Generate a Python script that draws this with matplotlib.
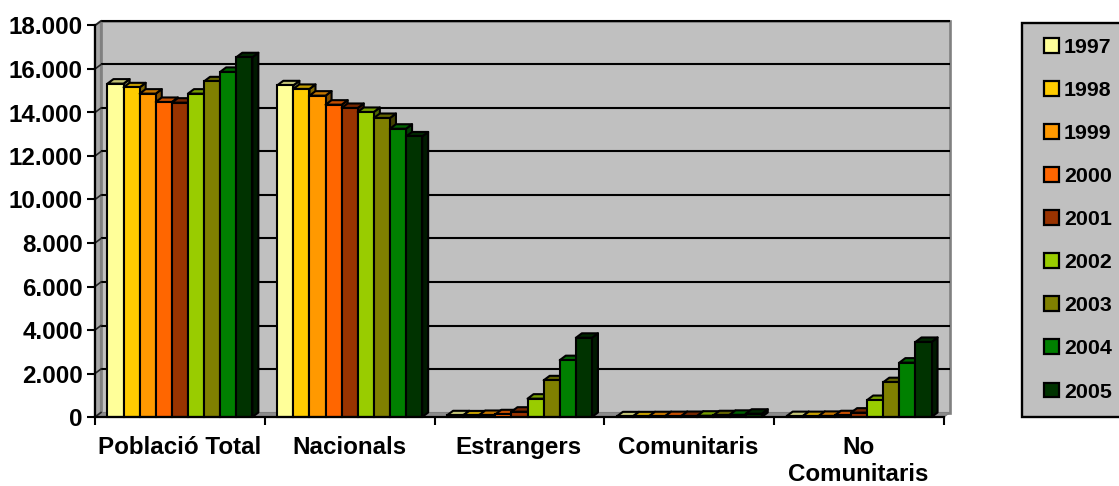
import matplotlib
matplotlib.use("Agg")
import matplotlib.pyplot as plt
from matplotlib.patches import Polygon, Rectangle

W, H = 1119, 486
plt.rcParams['font.family'] = ['Liberation Sans', 'DejaVu Sans']
plt.rcParams['font.weight'] = 'bold'

categories = ['Població Total', 'Nacionals', 'Estrangers', 'Comunitaris', 'No\nComunitaris']
years = ['1997', '1998', '1999', '2000', '2001', '2002', '2003', '2004', '2005']
colors = ['#FFFF99', '#FFCC00', '#FF9900', '#FF6600', '#993300', '#99CC00', '#808000', '#008000', '#003300']
shade = ['#C4C476', '#C49D00', '#C47600', '#C44E00', '#762700', '#769D00', '#626200', '#006200', '#002700']
dark = ['#808050', '#806600', '#804D00', '#803300', '#4D1A00', '#4D6600', '#404000', '#004000', '#001A00']

poblacio = [15328, 15157, 14867, 14484, 14452, 14867, 15433, 15867, 16540]
nacionals = [15250, 15084, 14775, 14360, 14208, 14024, 13747, 13254, 12899]
estrangers = [78, 73, 92, 124, 244, 843, 1686, 2613, 3641]
comunitaris = [30, 30, 35, 40, 45, 60, 80, 100, 150]
no_comunitaris = [40, 40, 50, 80, 200, 780, 1600, 2500, 3450]
series = [poblacio, nacionals, estrangers, comunitaris, no_comunitaris]
ticks = list(range(0, 18001, 2000))

x0, x1, y0, y1 = 95.0, 944.0, 417.0, 25.5
fig = plt.figure(figsize=(W / 100, H / 100), dpi=100, facecolor='white')
ax = fig.add_axes([x0 / W, 1 - y0 / H, (x1 - x0) / W, (y0 - y1) / H])
ax.set_xlim(0, 5)
ax.set_ylim(0, 18000)
ax.patch.set_visible(False)
for s in ('top', 'right'):
    ax.spines[s].set_visible(False)
for s in ('left', 'bottom'):
    ax.spines[s].set_linewidth(1.6)
    ax.spines[s].set_zorder(200)

ddx = 6 * 5 / (x1 - x0)
ddy = 4.5 * 18000 / (y0 - y1)

# depth planes
ax.add_patch(Rectangle((ddx, ddy), 5, 18000, fc='#C0C0C0', ec='#808080', lw=1.9, clip_on=False, zorder=1))
ax.add_patch(Polygon([(0, 0), (ddx, ddy), (ddx, 18000 + ddy), (0, 18000)], fc='#A6A6A6', ec='#808080', lw=1.6, clip_on=False, zorder=1))
ax.add_patch(Polygon([(0, 0), (5, 0), (5 + ddx, ddy), (ddx, ddy)], fc='#8C8C8C', ec='#808080', lw=0.8, clip_on=False, zorder=1))
for t in ticks[1:]:
    ax.plot([ddx, 5 + ddx], [t + ddy, t + ddy], color='black', lw=1.5, clip_on=False, zorder=2, solid_capstyle='butt')
for t in ticks:
    ax.plot([0, ddx], [t, t + ddy], color='#222222', lw=1.2, clip_on=False, zorder=2)

bw = 0.0948
margin = 0.0735
for c, vals in enumerate(series):
    for i, v in enumerate(vals):
        l = c + margin + i * bw
        r = l + bw
        z = 5 + c * 10 + i * 0.2
        ax.add_patch(Polygon([(r, 0), (r + ddx, ddy), (r + ddx, v + ddy), (r, v)], fc=dark[i], ec='black', lw=1.5, joinstyle='round', clip_on=False, zorder=z))
        ax.add_patch(Polygon([(l, v), (r, v), (r + ddx, v + ddy), (l + ddx, v + ddy)], fc=shade[i], ec='black', lw=1.5, joinstyle='round', clip_on=False, zorder=z))
        ax.add_patch(Rectangle((l, 0), bw, v, fc=colors[i], ec='black', lw=1.5, clip_on=False, zorder=z + 0.05))

ax.set_yticks(ticks)
ax.set_yticklabels([f'{t:,}'.replace(',', '.') for t in ticks], fontsize=17.4, fontweight='bold')
ax.set_xticks(range(6))
ax.set_xticklabels([])
ax.tick_params(axis='both', length=5.8, width=1.5, color='black', pad=3)
for c, name in enumerate(categories):
    ax.annotate(name, xy=(c + 0.5, 0), xytext=(-0.5, -13.5), xycoords=('data', 'axes fraction'),
                textcoords='offset points', ha='center', va='top', fontsize=17.4, fontweight='bold',
                linespacing=1.24, annotation_clip=False)

# legend box runs past the right edge of the picture, as in the source
fig.add_artist(Rectangle((1021.5 / W, 1 - 417 / H), 110 / W, 393.5 / H, transform=fig.transFigure,
                         fc='#C0C0C0', ec='black', lw=1.7))
handles = [Rectangle((0, 0), 1, 1, fc=c, ec='black', lw=1.6) for c in colors]
leg = fig.legend(handles, years, loc='upper left', bbox_to_anchor=(1044 / W, 1 - 38 / H), bbox_transform=fig.transFigure,
                 prop={'family': 'Liberation Sans', 'weight': 'bold', 'size': 15.4},
                 frameon=False, borderaxespad=0, borderpad=0, labelspacing=1.125,
                 handlelength=0.7, handleheight=0.7, handletextpad=0.24)

fig.savefig('out.png', dpi=100)
